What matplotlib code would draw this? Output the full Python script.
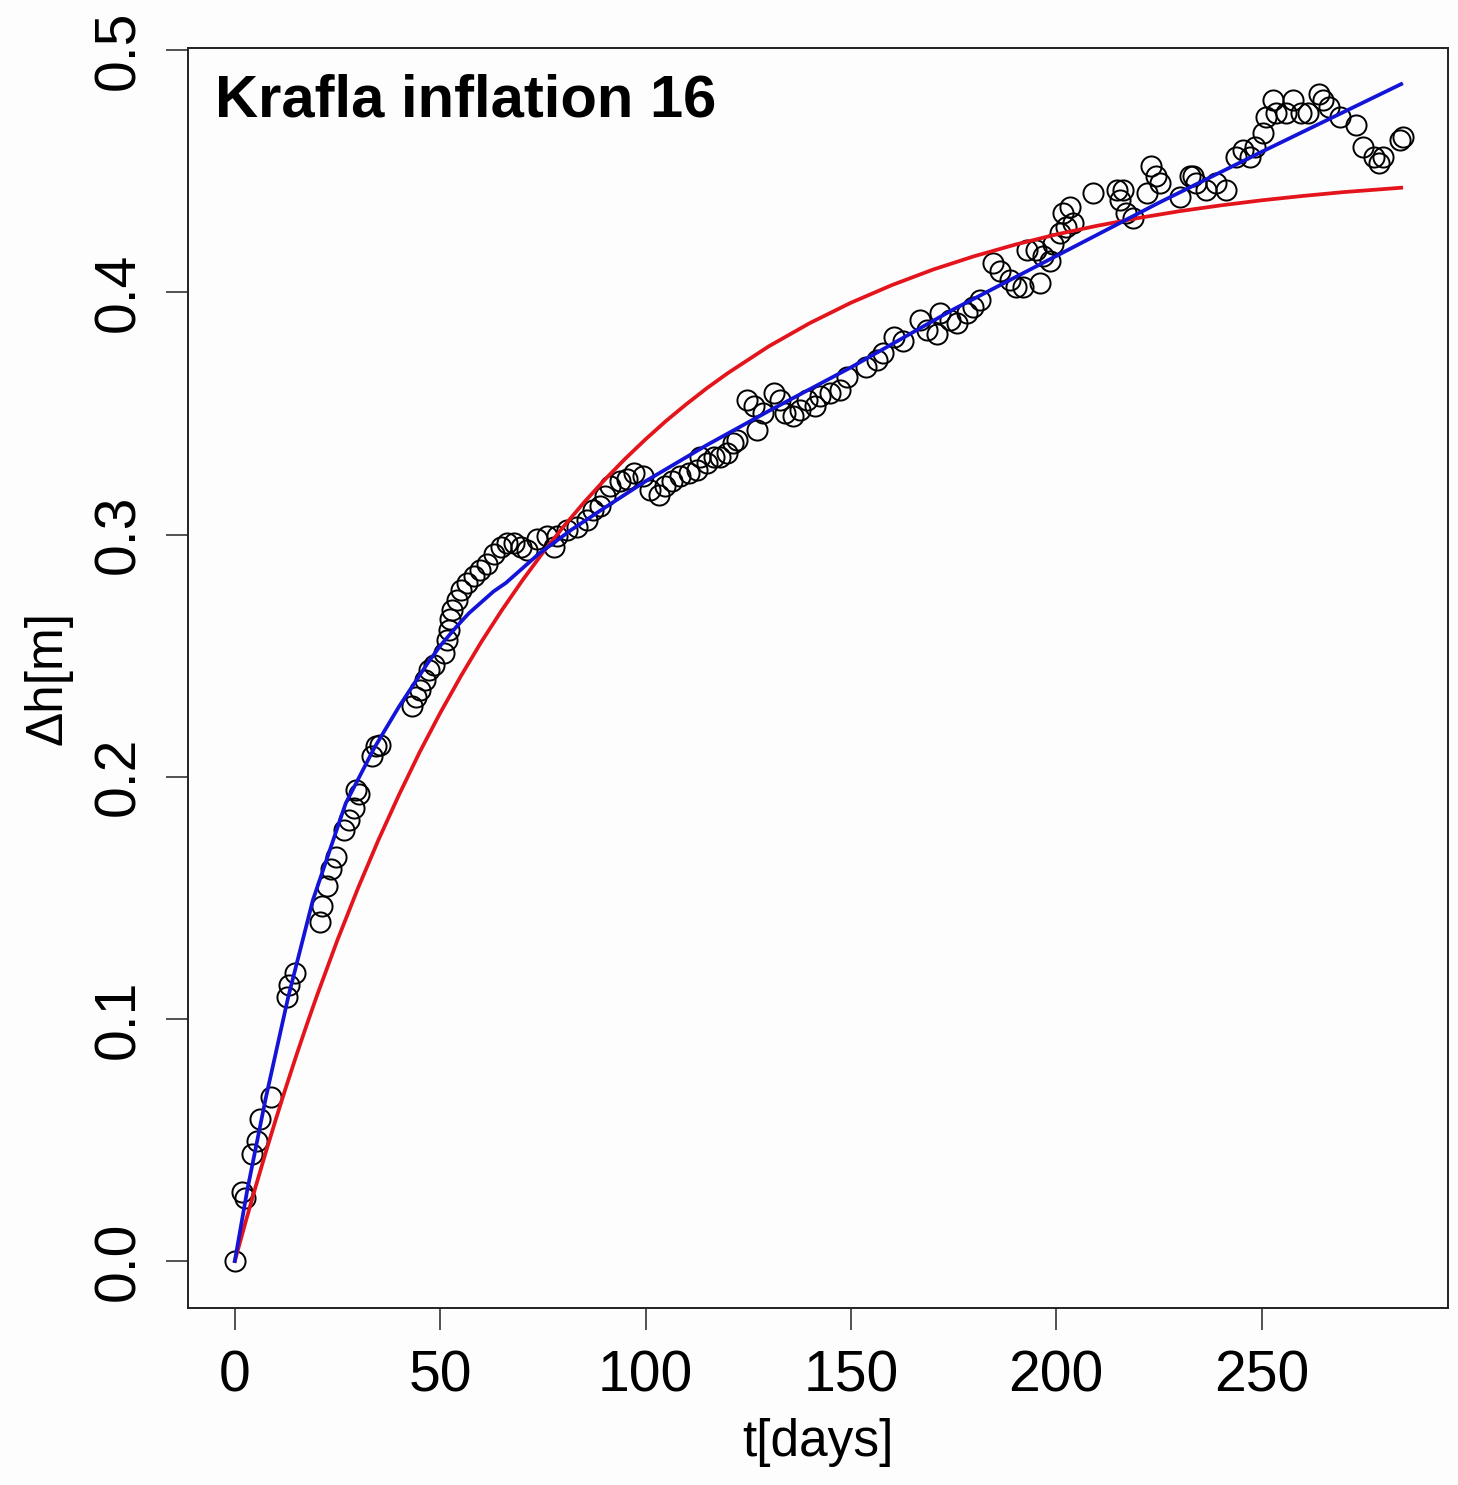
import matplotlib
matplotlib.use("Agg")
import matplotlib.pyplot as plt

# Observed levelling data: time since start of inflation and uplift
t_days = [0, 1.8, 2.4, 4.2, 5.4, 6.2, 8.7, 12.7, 13.1, 14.6, 20.8, 21.2, 22.4, 23.5,
          24.7, 26.5, 27.7, 28.9, 29.6, 30.3, 33.5, 34.3, 35.3, 43.2, 44.0, 45.2,
          46.4, 47.3, 48.5, 50.9, 51.7, 52.1, 52.5, 53.0, 54.2, 55.0, 56.6, 58.2,
          59.8, 61.5, 63.1, 64.7, 66.3, 67.9, 69.6, 71.2, 73.6, 76.0, 77.7, 78.5,
          80.9, 83.3, 85.8, 87.3, 89.0, 90.2, 91.4, 93.9, 95.5, 97.1, 99.5, 101.2,
          103.2, 104.8, 106.4, 108.5, 110.5, 112.5, 113.3, 114.9, 116.6, 118.2,
          119.8, 121.4, 122.2, 124.6, 126.3, 127.1, 128.7, 131.2, 132.8, 134.0,
          136.0, 137.6, 139.3, 141.3, 142.5, 145.0, 147.4, 149.0, 153.8, 156.3,
          157.9, 160.4, 162.8, 166.8, 168.5, 170.9, 171.7, 174.1, 175.8, 178.2,
          179.8, 181.4, 184.7, 186.3, 188.7, 190.3, 192.0, 192.8, 195.2, 196.0,
          196.8, 198.4, 199.3, 200.9, 201.7, 202.5, 203.3, 204.1, 209.0, 214.7,
          215.5, 216.3, 217.1, 218.7, 222.0, 223.2, 224.4, 225.2, 230.1, 232.5,
          233.3, 234.1, 236.5, 239.0, 241.4, 243.8, 245.5, 247.1, 248.3, 250.3,
          251.1, 252.7, 253.6, 256.0, 257.6, 259.6, 261.3, 264.1, 264.9, 266.5,
          269.0, 273.0, 274.6, 277.5, 278.7, 279.5, 283.6, 284.4]
dh_m = [0.000, 0.0285, 0.026, 0.044, 0.0496, 0.0586, 0.0676, 0.109, 0.114, 0.119,
        0.140, 0.1466, 0.155, 0.162, 0.167, 0.178, 0.182, 0.187, 0.1947, 0.193,
        0.2085, 0.2126, 0.213, 0.229, 0.233, 0.236, 0.240, 0.244, 0.246, 0.251,
        0.2566, 0.2607, 0.265, 0.269, 0.273, 0.277, 0.280, 0.2827, 0.2855, 0.288,
        0.292, 0.295, 0.2966, 0.2966, 0.295, 0.2937, 0.298, 0.2992, 0.295, 0.2992,
        0.302, 0.303, 0.306, 0.310, 0.3116, 0.316, 0.320, 0.322, 0.323, 0.3253,
        0.324, 0.3185, 0.3164, 0.320, 0.322, 0.324, 0.3253, 0.3267, 0.332, 0.3295,
        0.332, 0.332, 0.3336, 0.3377, 0.339, 0.3556, 0.353, 0.343, 0.350, 0.3584,
        0.3556, 0.350, 0.3488, 0.3515, 0.3556, 0.353, 0.357, 0.3584, 0.3597,
        0.3652, 0.3693, 0.372, 0.3749, 0.3817, 0.380, 0.3886, 0.3845, 0.383,
        0.3913, 0.3886, 0.3872, 0.3913, 0.394, 0.397, 0.412, 0.409, 0.405, 0.4024,
        0.4024, 0.4175, 0.4175, 0.4038, 0.415, 0.413, 0.420, 0.4244, 0.4326, 0.427,
        0.4354, 0.4285, 0.441, 0.4422, 0.438, 0.4422, 0.4326, 0.4305, 0.441, 0.452,
        0.448, 0.445, 0.4395, 0.448, 0.448, 0.445, 0.4422, 0.445, 0.4422, 0.456,
        0.4587, 0.456, 0.460, 0.4656, 0.4725, 0.4794, 0.474, 0.474, 0.4794, 0.474,
        0.474, 0.482, 0.4794, 0.4766, 0.4725, 0.469, 0.460, 0.456, 0.4533, 0.456,
        0.463, 0.464]

# Exponential (single-source) model curve
t_exp = [0, 2.5, 5, 7.5, 10, 12.5, 15, 17.5, 20, 25, 30, 35, 40, 45, 50, 55, 60,
         65, 70, 75, 80, 85, 90, 95, 100, 105, 110, 115, 120, 130, 140, 150, 160,
         170, 180, 190, 200, 210, 220, 230, 240, 250, 260, 270, 284]
dh_exp = [0.0, 0.0154, 0.0303, 0.0447, 0.0586, 0.0720, 0.0850, 0.0975, 0.1096,
          0.1326, 0.1540, 0.1740, 0.1926, 0.2101, 0.2263, 0.2414, 0.2556, 0.2687,
          0.2810, 0.2925, 0.3032, 0.3132, 0.3225, 0.3312, 0.3393, 0.3469, 0.3539,
          0.3605, 0.3666, 0.3777, 0.3873, 0.3957, 0.4030, 0.4094, 0.4149, 0.4197,
          0.4239, 0.4275, 0.4307, 0.4335, 0.4359, 0.4380, 0.4398, 0.4414, 0.4432]

# Alternative model curve
t_fit = [0, 3, 7.5, 13, 19, 27, 34, 40, 47, 50, 54, 57, 60, 63, 66, 70, 74, 78,
         82, 86, 90, 95, 100, 115, 130, 150, 175, 200, 225, 250, 284]
dh_fit = [0.0, 0.029, 0.067, 0.109, 0.149, 0.189, 0.212, 0.229, 0.247, 0.254,
          0.262, 0.2675, 0.272, 0.2765, 0.280, 0.286, 0.292, 0.297, 0.302, 0.3065,
          0.311, 0.3165, 0.322, 0.337, 0.351, 0.369, 0.393, 0.415, 0.437, 0.458,
          0.486]

x_ticks = [0, 50, 100, 150, 200, 250]
y_ticks = [0.0, 0.1, 0.2, 0.3, 0.4, 0.5]
title_text = "Krafla inflation 16"

plt.rcParams['font.family'] = ['Liberation Sans', 'DejaVu Sans']

W, H = 1458, 1485
fig = plt.figure(figsize=(W / 100, H / 100), dpi=100)
fig.patch.set_facecolor('#fdfdfd')
ax = fig.add_axes([188 / W, 1 - 1308 / H, 1260 / W, 1260 / H])
ax.set_facecolor('#fdfdfd')

ax.plot(t_days, dh_m, linestyle='none', marker='o', markersize=14.5,
        markerfacecolor='none', markeredgecolor='black', markeredgewidth=1.4,
        zorder=2)
ax.plot(t_exp, dh_exp, color='#e3141b', linewidth=2.7, zorder=3,
        solid_joinstyle='round')
ax.plot(t_fit, dh_fit, color='#1414d8', linewidth=2.7, zorder=4,
        solid_joinstyle='round')

ax.set_xlim(-11.4, 295.4)
ax.set_ylim(-0.0194, 0.5009)
ax.set_xticks(x_ticks)
ax.set_xticklabels([str(v) for v in x_ticks])
ax.set_yticks(y_ticks)
ax.set_yticklabels([f"{v:.1f}" for v in y_ticks], rotation=90, va='center')

for s in ax.spines.values():
    s.set_linewidth(1.4)
    s.set_color('#222222')
ax.tick_params(axis='both', length=16, width=1.1, labelsize=41, pad=14,
               color='#222222')

ax.set_xlabel("t[days]", fontsize=37, labelpad=10)
ax.set_ylabel("Δh[m]", fontsize=37, labelpad=14)

ax.text(0.0214, 0.958, title_text, transform=ax.transAxes, fontsize=43,
        fontweight='bold', ha='left', va='center')

fig.savefig("out.png", dpi=100, facecolor=fig.get_facecolor())
